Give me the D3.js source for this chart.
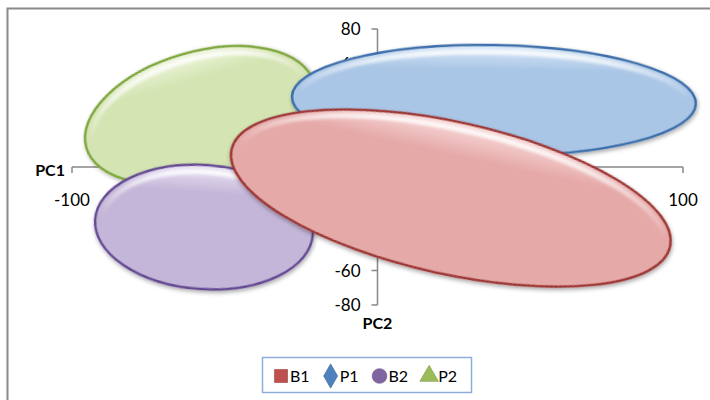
<!DOCTYPE html>
<html><head><meta charset="utf-8">
<script src="https://cdn.jsdelivr.net/npm/d3@7"></script>
<style>
html,body{margin:0;padding:0;background:#fff;}
svg{display:block;font-family:Lato,"Open Sans",sans-serif;}
</style></head>
<body><svg id="chart" width="710" height="400"></svg>
<script>
// ---- data ----
const series = ["B1", "P1", "B2", "P2"];
const centerPC1 = [24.0, 38.1, -56.8, -58.1];
const centerPC2 = [-18.0, 38.8, -34.8, 30.1];
const spreadPC1 = [73.5, 66.1, 35.7, 38.7];
const spreadPC2 = [44.0, 31.9, 36.0, 36.6];
const tiltDeg   = [12.5, 1, 4, -16];
const xTicks = [-100, 0, 100];
const yTicks = [80, 60, 40, 20, 0, -20, -40, -60, -80];
const xTitle = "PC1", yTitle = "PC2";

// ---- styles ----
const fillMain  = {B1:"#E5A9A8", P1:"#AAC6E6", B2:"#C4B6D8", P2:"#D4E4B2"};
const fillLight = {B1:"#F8DADA", P1:"#DCEAF8", B2:"#EDE6F6", P2:"#EEF6DD"};
const strokeCol = {B1:"#9E3836", P1:"#3B6EAB", B2:"#654A93", P2:"#7FA73D"};
const markCol   = {B1:"#C0504D", P1:"#4F81BD", B2:"#8064A2", P2:"#9BBB59"};
const markSym   = {B1:d3.symbolSquare, P1:d3.symbolDiamond, B2:d3.symbolCircle, P2:d3.symbolTriangle};
const drawOrder = ["P2", "B2", "P1", "B1"];

const svg = d3.select("#chart");
const x = d3.scaleLinear().domain([-100, 100]).range([72, 683]);
const y = d3.scaleLinear().domain([-80, 80]).range([305, 29]);
const axisCol = "#878787";

// outer frame
svg.append("path").attr("d", "M7.5,400V8.5H710")
  .attr("fill", "none").attr("stroke", "#8a8a8a").attr("stroke-width", 2);

const defs = svg.append("defs");
const f = defs.append("filter").attr("id", "sh").attr("x", "-20%").attr("y", "-20%").attr("width", "140%").attr("height", "150%");
f.append("feDropShadow").attr("dx", 1).attr("dy", 2).attr("stdDeviation", 2)
  .attr("flood-color", "#000").attr("flood-opacity", 0.35);
const blur = defs.append("filter").attr("id", "bl");
blur.append("feGaussianBlur").attr("stdDeviation", 1.6);

series.forEach(s => {
  const g = defs.append("linearGradient").attr("id", "fg" + s).attr("x1", 0).attr("y1", 0).attr("x2", 0).attr("y2", 1);
  g.append("stop").attr("offset", "0%").attr("stop-color", fillLight[s]);
  g.append("stop").attr("offset", "22%").attr("stop-color", fillMain[s]);
  g.append("stop").attr("offset", "100%").attr("stop-color", fillMain[s]);
  const h = defs.append("linearGradient").attr("id", "hg" + s).attr("x1", 0).attr("y1", 0).attr("x2", 0).attr("y2", 1);
  h.append("stop").attr("offset", "0%").attr("stop-color", "#fff").attr("stop-opacity", 0.9);
  h.append("stop").attr("offset", "45%").attr("stop-color", "#fff").attr("stop-opacity", 0);
  h.append("stop").attr("offset", "100%").attr("stop-color", "#fff").attr("stop-opacity", 0);
});

// axes (drawn beneath the ellipses)
const axes = svg.append("g");
axes.append("line").attr("x1", x(-100)).attr("x2", x(100)).attr("y1", y(0)).attr("y2", y(0))
  .attr("stroke", axisCol).attr("stroke-width", 1.5);
axes.selectAll(".xt").data(xTicks).join("line")
  .attr("x1", d => x(d)).attr("x2", d => x(d)).attr("y1", y(0)).attr("y2", y(0) + 6)
  .attr("stroke", axisCol).attr("stroke-width", 1.5);
axes.selectAll(".xl").data(xTicks).join("text")
  .attr("x", d => x(d)).attr("y", y(0) + 39).attr("text-anchor", "middle")
  .attr("font-size", 17).attr("fill", "#000").text(d => d);
axes.append("line").attr("x1", x(0)).attr("x2", x(0)).attr("y1", y(80)).attr("y2", y(-80))
  .attr("stroke", axisCol).attr("stroke-width", 1.5);
axes.selectAll(".yt").data(yTicks).join("line")
  .attr("x1", x(0) - 6).attr("x2", x(0)).attr("y1", d => y(d)).attr("y2", d => y(d))
  .attr("stroke", axisCol).attr("stroke-width", 1.5);
axes.selectAll(".yl").data(yTicks).join("text")
  .attr("x", x(0) - 17).attr("y", d => y(d) + 6).attr("text-anchor", "end")
  .attr("font-size", 17).attr("fill", "#000").text(d => d);
axes.append("text").attr("x", 65).attr("y", y(0) + 9).attr("text-anchor", "end")
  .attr("font-size", 16).attr("font-weight", "bold").text(xTitle);
axes.append("text").attr("x", x(0)).attr("y", 329).attr("text-anchor", "middle")
  .attr("font-size", 16).attr("font-weight", "bold").text(yTitle);

// ellipses
const rows = series.map((s, i) => ({
  s, cx: centerPC1[i], cy: centerPC2[i], sx: spreadPC1[i], sy: spreadPC2[i], t: tiltDeg[i]
}));
const ordered = drawOrder.map(s => rows.find(r => r.s === s));
const eg = svg.append("g").selectAll("g").data(ordered).join("g")
  .attr("transform", d => `translate(${x(d.cx)},${y(d.cy)}) rotate(${d.t})`);
eg.append("ellipse")
  .attr("rx", d => x(d.cx + d.sx) - x(d.cx)).attr("ry", d => y(d.cy) - y(d.cy + d.sy))
  .attr("fill", d => `url(#fg${d.s})`).attr("stroke", d => strokeCol[d.s]).attr("stroke-width", 2.5)
  .attr("filter", "url(#sh)");
eg.append("ellipse")
  .attr("rx", d => x(d.cx + d.sx) - x(d.cx) - 7).attr("ry", d => y(d.cy) - y(d.cy + d.sy) - 7)
  .attr("fill", "none").attr("stroke", d => `url(#hg${d.s})`).attr("stroke-width", 5)
  .attr("filter", "url(#bl)");

// legend
const lg = svg.append("g");
lg.append("rect").attr("x", 262.5).attr("y", 357.5).attr("width", 209).attr("height", 35)
  .attr("fill", "#fff").attr("stroke", "#8EAEDA").attr("stroke-width", 1.5);
let cursor = 274;
series.forEach(s => {
  const item = lg.append("g");
  item.append("path").attr("d", d3.symbol().type(markSym[s]).size(s === "P2" ? 150 : 170)())
    .attr("transform", `translate(${cursor + 7},${376})`)
    .attr("fill", markCol[s]).attr("stroke", d3.color(markCol[s]).darker(0.6)).attr("stroke-width", 0.6);
  const t = item.append("text").attr("x", cursor + 16).attr("y", 382)
    .attr("font-size", 16).attr("fill", "#000").text(s);
  cursor += 16 + t.node().getComputedTextLength() + 14;
});
</script></body></html>
